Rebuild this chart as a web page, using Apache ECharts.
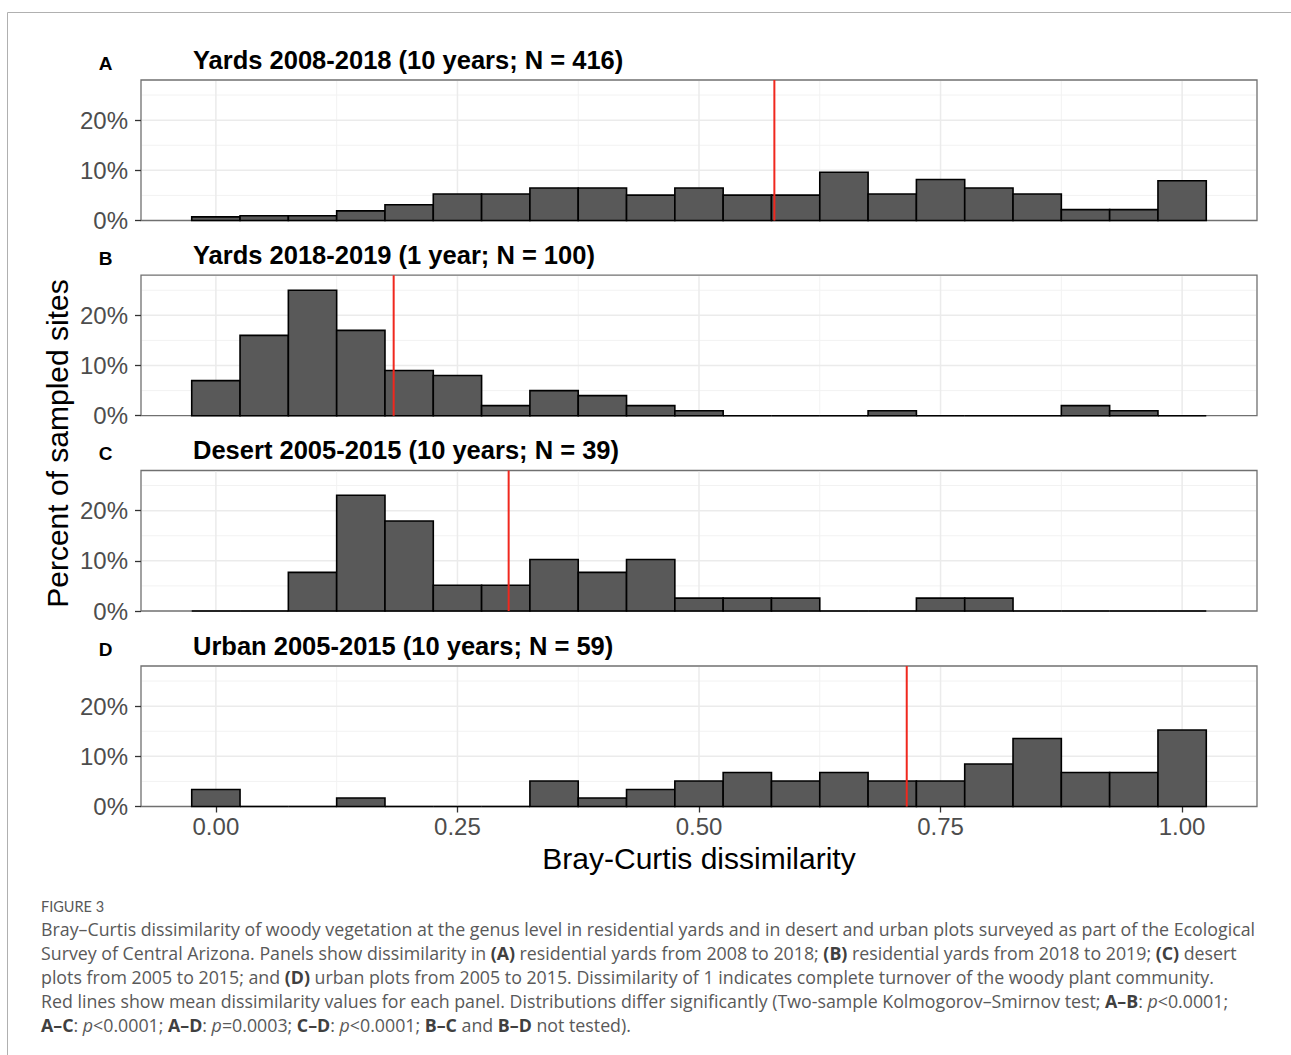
<!DOCTYPE html>
<html>
<head>
<meta charset="utf-8">
<title>Bray–Curtis dissimilarity</title>
<script src="https://cdn.jsdelivr.net/npm/echarts@6/dist/echarts.min.js"></script>
<style>
  html, body { margin: 0; padding: 0; background: #ffffff; }
  #chart { width: 1291px; height: 1055px; }
</style>
</head>
<body>
<div id="chart"></div>
<script>
// Histogram bins (centres), width 0.05
const binCenters = [0.00, 0.05, 0.10, 0.15, 0.20, 0.25, 0.30, 0.35, 0.40, 0.45, 0.50,
                    0.55, 0.60, 0.65, 0.70, 0.75, 0.80, 0.85, 0.90, 0.95, 1.00];
const binWidth = 0.05;

// Percent of sampled sites per bin
const yards2008to2018 = [0.72, 0.96, 0.96, 1.92, 3.13, 5.29, 5.29, 6.49, 6.49, 5.05, 6.49,
                         5.05, 5.05, 9.62, 5.29, 8.17, 6.49, 5.29, 2.16, 2.16, 7.93];
const yards2018to2019 = [7, 16, 25, 17, 9, 8, 2, 5, 4, 2, 1,
                         0, 0, 0, 1, 0, 0, 0, 2, 1, 0];
const desert2005to2015 = [0, 0, 7.69, 23.08, 17.95, 5.13, 5.13, 10.26, 7.69, 10.26, 2.56,
                          2.56, 2.56, 0, 0, 2.56, 2.56, 0, 0, 0, 0];
const urban2005to2015 = [3.39, 0, 0, 1.69, 0, 0, 0, 5.08, 1.69, 3.39, 5.08,
                         6.78, 5.08, 6.78, 5.08, 5.08, 8.47, 13.56, 6.78, 6.78, 15.25];

// Mean dissimilarity per panel
const panelMeans = [0.578, 0.184, 0.303, 0.715];

const panelLetters = ['A', 'B', 'C', 'D'];
const panelTitles = [
  'Yards 2008-2018 (10 years; N = 416)',
  'Yards 2018-2019 (1 year; N = 100)',
  'Desert 2005-2015 (10 years; N = 39)',
  'Urban 2005-2015 (10 years; N = 59)'
];

// Axis ticks
const xTicks = [0, 0.25, 0.5, 0.75, 1];
const xMinorTicks = [0.125, 0.375, 0.625, 0.875];
const yTicks = [0, 10, 20];
const yMinorTicks = [5, 15, 25];

const xLabel = 'Bray-Curtis dissimilarity';
const yLabel = 'Percent of sampled sites';

const captionHead = 'FIGURE 3';

// ---------------------------------------------------------------
const panelValues = [yards2008to2018, yards2018to2019, desert2005to2015, urban2005to2015];
const X_MIN = -0.0775, X_MAX = 1.0775, Y_MIN = 0, Y_MAX = 28;

const FONT = '"Liberation Sans", Arial, Helvetica, sans-serif';
const CAP_FONT = '"Open Sans", Lato, sans-serif';

const plotLeft = 141, plotWidth = 1116, plotHeight = 140.5;
const plotTops = [80, 275.2, 470.5, 666];

const chart = echarts.init(document.getElementById('chart'), null, { renderer: 'svg' });

const grids = [], xAxes = [], yAxes = [], series = [], graphics = [];

plotTops.forEach((top, i) => {
  const isLast = i === plotTops.length - 1;
  grids.push({
    left: plotLeft, top: top, width: plotWidth, height: plotHeight,
    show: true, backgroundColor: '#ffffff', borderColor: '#707070', borderWidth: 1.3,
    containLabel: false, outerBoundsMode: 'none'
  });
  xAxes.push({
    type: 'value', gridIndex: i, min: X_MIN, max: X_MAX, position: 'bottom',
    axisLine: { show: false, onZero: false },
    splitLine: { show: false },
    axisTick: { show: isLast, customValues: xTicks, length: 6, lineStyle: { color: '#333333', width: 1.3 } },
    axisLabel: {
      show: isLast, customValues: xTicks, margin: 8,
      formatter: v => v.toFixed(2),
      color: '#4d4d4d', fontSize: 24, fontFamily: FONT
    }
  });
  yAxes.push({
    type: 'value', gridIndex: i, min: Y_MIN, max: Y_MAX, position: 'left',
    axisLine: { show: false, onZero: false },
    splitLine: { show: false },
    axisTick: { show: true, customValues: yTicks, length: 6, lineStyle: { color: '#333333', width: 1.3 } },
    axisLabel: {
      customValues: yTicks, margin: 13,
      formatter: v => v + '%',
      color: '#4d4d4d', fontSize: 24, fontFamily: FONT
    }
  });

  // panel gridlines
  series.push({
    type: 'custom', xAxisIndex: i, yAxisIndex: i, silent: true, z: 1,
    data: [[0, 0]],
    renderItem: (params, api) => {
      const children = [];
      const vLine = (v, major) => {
        const a = api.coord([v, Y_MIN]), b = api.coord([v, Y_MAX]);
        children.push({ type: 'line', shape: { x1: a[0], y1: a[1] - 1, x2: b[0], y2: b[1] + 1 },
          style: { stroke: major ? '#ebebeb' : '#f2f2f2', lineWidth: major ? 1.5 : 1 } });
      };
      const hLine = (v, major) => {
        const a = api.coord([X_MIN, v]), b = api.coord([X_MAX, v]);
        children.push({ type: 'line', shape: { x1: a[0] + 1, y1: a[1], x2: b[0] - 1, y2: b[1] },
          style: { stroke: major ? '#ebebeb' : '#f2f2f2', lineWidth: major ? 1.5 : 1 } });
      };
      xMinorTicks.forEach(v => vLine(v, false));
      yMinorTicks.forEach(v => hLine(v, false));
      xTicks.forEach(v => vLine(v, true));
      yTicks.filter(v => v > Y_MIN).forEach(v => hLine(v, true));
      return { type: 'group', children };
    }
  });

  // histogram bars
  series.push({
    type: 'custom', xAxisIndex: i, yAxisIndex: i, silent: true, z: 3,
    encode: { x: 0, y: 1 },
    data: binCenters.map((c, k) => [c, panelValues[i][k]]),
    renderItem: (params, api) => {
      const c = api.value(0), v = api.value(1);
      const p0 = api.coord([c - binWidth / 2, 0]);
      const p1 = api.coord([c + binWidth / 2, v]);
      return {
        type: 'rect',
        shape: { x: p0[0], y: p1[1], width: p1[0] - p0[0], height: p0[1] - p1[1] },
        style: { fill: '#595959', stroke: '#000000', lineWidth: 1.6 }
      };
    }
  });

  // mean line
  series.push({
    type: 'line', xAxisIndex: i, yAxisIndex: i, silent: true, z: 4,
    data: [[panelMeans[i], Y_MIN], [panelMeans[i], Y_MAX]],
    symbol: 'none', animation: false,
    lineStyle: { color: '#f0281e', width: 2 }
  });

  // panel letter and title
  graphics.push({
    type: 'text', x: 105.5, y: top - 17,
    style: { text: panelLetters[i], fill: '#000', fontSize: 19, fontWeight: 'bold', fontFamily: FONT,
             align: 'center', verticalAlign: 'middle', textAlign: 'center', textVerticalAlign: 'middle' }
  });
  graphics.push({
    type: 'text', x: 193, y: top - 20.5,
    style: { text: panelTitles[i], fill: '#000', fontSize: 25.5, fontWeight: 'bold', fontFamily: FONT,
             align: 'left', verticalAlign: 'middle', textAlign: 'left', textVerticalAlign: 'middle' }
  });
});

// axis titles
graphics.push({
  type: 'text', x: 699, y: 858,
  style: { text: xLabel, fill: '#000', fontSize: 30, fontFamily: FONT,
           align: 'center', verticalAlign: 'middle', textAlign: 'center', textVerticalAlign: 'middle' }
});
graphics.push({
  type: 'text', x: 57, y: 443.5, rotation: Math.PI / 2,
  style: { text: yLabel, fill: '#000', fontSize: 30, fontFamily: FONT,
           align: 'center', verticalAlign: 'middle', textAlign: 'center', textVerticalAlign: 'middle' }
});

// figure frame (top and left rules)
graphics.push({ type: 'line', shape: { x1: 7.5, y1: 12.5, x2: 1291, y2: 12.5 }, style: { stroke: '#b0b0b0', lineWidth: 1 } });
graphics.push({ type: 'line', shape: { x1: 7.5, y1: 12.5, x2: 7.5, y2: 1055 }, style: { stroke: '#b0b0b0', lineWidth: 1 } });

// caption
const capColor = '#595959';
const capSize = 17.8;
const capRich = {
  n: { fill: capColor, fontSize: capSize, fontFamily: CAP_FONT },
  b: { fill: '#404040', fontSize: capSize, fontFamily: CAP_FONT, fontWeight: 'bold' },
  i: { fill: capColor, fontSize: capSize, fontFamily: CAP_FONT, fontStyle: 'italic' }
};
const captionLines = [
  '{n|Bray–Curtis dissimilarity of woody vegetation at the genus level in residential yards and in desert and urban plots surveyed as part of the Ecological}',
  '{n|Survey of Central Arizona. Panels show dissimilarity in }{b|(A)}{n| residential yards from 2008 to 2018; }{b|(B)}{n| residential yards from 2018 to 2019; }{b|(C)}{n| desert}',
  '{n|plots from 2005 to 2015; and }{b|(D)}{n| urban plots from 2005 to 2015. Dissimilarity of 1 indicates complete turnover of the woody plant community.}',
  '{n|Red lines show mean dissimilarity values for each panel. Distributions differ significantly (Two-sample Kolmogorov–Smirnov test; }{b|A–B}{n|: }{i|p}{n|<0.0001;}',
  '{b|A–C}{n|: }{i|p}{n|<0.0001; }{b|A–D}{n|: }{i|p}{n|=0.0003; }{b|C–D}{n|: }{i|p}{n|<0.0001; }{b|B–C}{n| and }{b|B–D}{n| not tested).}'
];
graphics.push({
  type: 'text', x: 41, y: 906,
  style: { text: captionHead, fill: '#595959', fontSize: 14.5, fontFamily: 'Lato, sans-serif',
           align: 'left', verticalAlign: 'middle', textAlign: 'left', textVerticalAlign: 'middle' }
});
captionLines.forEach((line, k) => {
  graphics.push({
    type: 'text', x: 41, y: 929 + 24 * k,
    style: { text: line, rich: capRich, fill: capColor, fontSize: capSize, fontFamily: CAP_FONT,
             align: 'left', verticalAlign: 'middle', textAlign: 'left', textVerticalAlign: 'middle' }
  });
});

chart.setOption({
  backgroundColor: '#ffffff',
  animation: false,
  grid: grids,
  xAxis: xAxes,
  yAxis: yAxes,
  series: series,
  graphic: { elements: graphics }
});
</script>
</body>
</html>
